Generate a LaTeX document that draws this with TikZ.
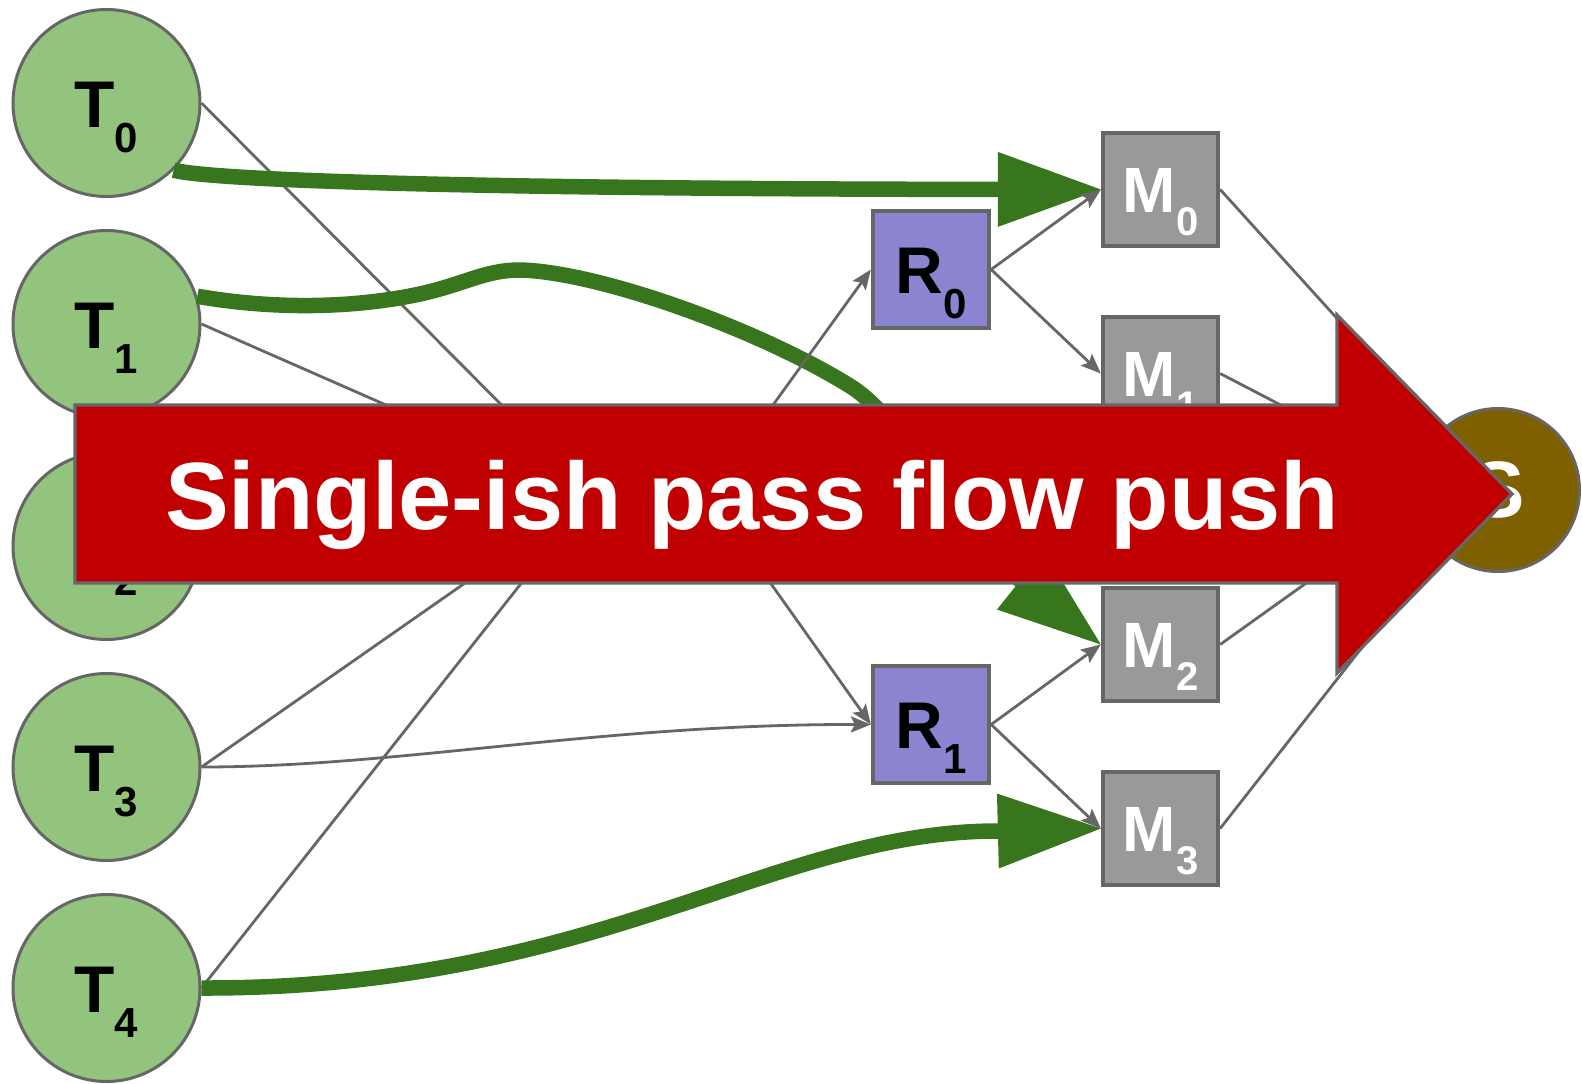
\documentclass[tikz,border=0pt]{standalone}
\usepackage{fontspec}
\setmainfont{Liberation Sans}
\usetikzlibrary{arrows.meta}
\definecolor{tgreen}{HTML}{93C47D}
\definecolor{edgegray}{HTML}{666666}
\definecolor{mgray}{HTML}{999999}
\definecolor{rpurple}{RGB}{139,132,209}
\definecolor{sgold}{HTML}{7F6000}
\definecolor{flowgreen}{HTML}{38761D}
\definecolor{bannerred}{RGB}{192,0,0}
\newcommand\tsubtxt[2]{{\fontsize{66}{66}\selectfont #1}\raisebox{-25pt}{\fontsize{42}{42}\selectfont #2}}
\newcommand\msubtxt[2]{{\fontsize{64}{64}\selectfont #1}\raisebox{-23pt}{\fontsize{40}{40}\selectfont #2}}
\tikzset{
  tnode/.style={circle, draw=edgegray, line width=3pt, fill=tgreen, minimum size=187pt,
    inner sep=0pt, text height=48pt, text depth=0pt, font=\bfseries},
  rnode/.style={rectangle, draw=edgegray, line width=4.3pt, fill=rpurple, minimum width=116pt,
    minimum height=117pt, inner sep=0pt, text height=48pt, text depth=0pt, font=\bfseries},
  mnode/.style={rectangle, draw=edgegray, line width=4.3pt, fill=mgray, text=white, minimum width=115pt,
    minimum height=113pt, inner sep=0pt, text height=46pt, text depth=0pt, font=\bfseries},
  snode/.style={circle, draw=edgegray, line width=3pt, fill=sgold, text=white, minimum size=163pt,
    inner sep=0pt, font={\bfseries\fontsize{80}{80}\selectfont}},
  edge/.style={draw=edgegray, line width=2.8pt},
  garrow/.style={edge, -{Stealth[length=20pt,width=16pt,inset=4pt]}},
  flow/.style={draw=flowgreen, line width=15.5pt, -{Triangle[length=103pt,width=75pt,line width=0pt]}},
  bannertext/.style={text=white, font={\bfseries\fontsize{95.6}{95.6}\selectfont}, inner sep=0pt}
}
\begin{document}
\begin{tikzpicture}[x=1pt, y=-1pt]
\useasboundingbox (0,0) rectangle (1582,1084);
% nodes
\node[tnode] (T0) at (106.5,103) {\tsubtxt{T}{0}};
\node[tnode] (T1) at (106.5,324) {\tsubtxt{T}{1}};
\node[tnode] (T2) at (106.5,546) {\tsubtxt{T}{2}};
\node[tnode] (T3) at (106.5,767) {\tsubtxt{T}{3}};
\node[tnode] (T4) at (106.5,988) {\tsubtxt{T}{4}};
\node[rnode] (R0) at (931,269.5) {\tsubtxt{R}{0}};
\node[rnode] (R1) at (931,724.5) {\tsubtxt{R}{1}};
\node[mnode] (M0) at (1160.5,189.5) {\msubtxt{M}{0}};
\node[mnode] (M1) at (1160.5,373.5) {\msubtxt{M}{1}};
\node[mnode] (M2) at (1160.5,644.5) {\msubtxt{M}{2}};
\node[mnode] (M3) at (1160.5,828.5) {\msubtxt{M}{3}};
\node[snode] (S) at (1498,490) {S};
\coordinate (hubA) at (591,495);
\coordinate (hubB) at (708,495);
% gray lines from T nodes
\draw[edge] (T0.east) -- (hubA);
\draw[edge] (T1.east) -- (hubA);
\draw[edge] (T3.east) -- (hubA);
\draw[edge] (T4.east) -- (hubA);
\draw[garrow] (T3.east) .. controls (400,767) and (600,724) .. (R1.west);
% green flow paths
\draw[flow] (T0.-45) .. controls (215,181) and (500,189) .. (M0.west);
\draw[flow] (T1.17) .. controls (270,309) and (350,309) .. (420,294)
  .. controls (465,284) and (485,270) .. (520,270)
  .. controls (600,272) and (760,330) .. (850,386)
  .. controls (905,420) and (960,532) .. (1020,580) -- (M2.west);
\draw[flow] (T4.east) .. controls (600,989) and (771,831) .. (998,831) -- (M3.west);
% gray arrows R / M
\draw[garrow] (hubB) -- (R0.west);
\draw[garrow] (hubB) -- (R1.west);
\draw[garrow] (R0.east) -- (M0.west);
\draw[garrow] (R0.east) -- (M1.west);
\draw[garrow] (R1.east) -- (M2.west);
\draw[garrow] (R1.east) -- (M3.west);
\draw[edge] (M0.east) -- (S.135);
\draw[edge] (M1.east) -- (S.170);
\draw[edge] (M2.east) -- (S.190);
\draw[edge] (M3.east) -- (S.225);
% banner arrow
\filldraw[fill=bannerred, draw=edgegray, line width=3.3pt]
  (75,405) -- (1337,405) -- (1337,315) -- (1512,494) -- (1337,673) -- (1337,583) -- (75,583) -- cycle;
\node[bannertext, anchor=base] (banner) at (752,529) {Single-ish pass flow push};
\end{tikzpicture}
\end{document}
